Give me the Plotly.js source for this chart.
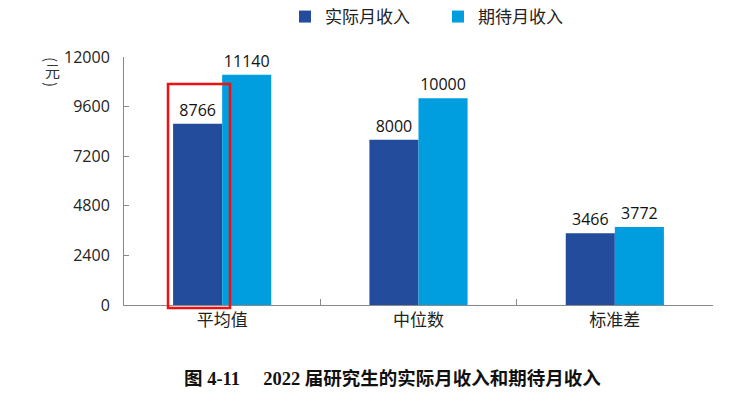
<!DOCTYPE html>
<html><head><meta charset="utf-8">
<script src="https://cdn.plot.ly/plotly-3.0.1.min.js"></script>
<style>html,body{margin:0;padding:0;background:#fff}#chart{width:731px;height:393px}</style>
</head><body><div id="chart"></div>
<script>
const categories = ['平均值', '中位数', '标准差'];
const actualIncome = [8766, 8000, 3466];
const expectedIncome = [11140, 10000, 3772];
const seriesNames = ['实际月收入', '期待月收入'];
const yTicks = [0, 2400, 4800, 7200, 9600, 12000];

const labelFont = {family: 'Open Sans, Noto Sans CJK SC, sans-serif', size: 16, color: '#111'};
const traces = [
  {type: 'bar', name: seriesNames[0], x: categories, y: actualIncome,
   marker: {color: '#234C9C'}, text: actualIncome.map(String), textposition: 'outside',
   textfont: labelFont, cliponaxis: false},
  {type: 'bar', name: seriesNames[1], x: categories, y: expectedIncome,
   marker: {color: '#009EDF'}, text: expectedIncome.map(String), textposition: 'outside',
   textfont: labelFont, cliponaxis: false}
];
const px = (x) => (x - 124) / 589;
const py = (y) => (305 - y) / 248;
const unitFont = {family: 'Noto Sans CJK SC, sans-serif', size: 15, color: '#333'};
const unit = (text, y, angle) => ({xref: 'paper', yref: 'paper', x: px(52), y: py(y),
  xanchor: 'center', yanchor: 'middle', text: text, textangle: angle, showarrow: false, font: unitFont});
const layout = {
  width: 731, height: 393,
  margin: {l: 124, r: 18, t: 57, b: 88, autoexpand: false},
  paper_bgcolor: '#fff', plot_bgcolor: '#fff',
  barmode: 'group', bargap: 0.5, bargroupgap: 0,
  showlegend: true,
  legend: {orientation: 'h', x: px(285), xanchor: 'left', y: py(17), yanchor: 'middle',
           font: {family: 'Noto Sans CJK SC, sans-serif', size: 17, color: '#222'},
           itemwidth: 30, entrywidth: 108, traceorder: 'normal'},
  xaxis: {type: 'category', showline: true, linecolor: '#8a8a8a', linewidth: 1,
          ticks: 'inside', tickson: 'boundaries', ticklen: 6, tickcolor: '#8a8a8a',
          tickfont: {family: 'Noto Sans CJK SC, sans-serif', size: 17, color: '#222'},
          showgrid: false, zeroline: false, fixedrange: true},
  yaxis: {range: [0, 12000], tickvals: yTicks, ticktext: yTicks.map(String),
          showline: true, linecolor: '#8a8a8a', linewidth: 1,
          ticks: 'inside', ticklen: 5, tickcolor: '#8a8a8a', ticklabelstandoff: 10,
          tickfont: {family: 'Open Sans, sans-serif', size: 16, color: '#222'},
          showgrid: false, zeroline: false, fixedrange: true},
  shapes: [
    {type: 'rect', xref: 'paper', yref: 'paper',
     x0: px(168), x1: px(230), y0: py(308), y1: py(84),
     line: {color: '#F01010', width: 2.5}, fillcolor: 'rgba(0,0,0,0)'}
  ],
  annotations: [
    unit('(', 59, 90),
    unit('元', 71, 0),
    unit(')', 84, 90),
    {xref: 'paper', yref: 'paper', x: px(392), y: py(378),
     xanchor: 'center', yanchor: 'middle', showarrow: false,
     text: '<b>图 4-11     2022 届研究生的实际月收入和期待月收入</b>',
     font: {family: 'Liberation Serif, Noto Sans CJK SC, serif', size: 18.5, color: '#111'}}
  ]
};
Plotly.newPlot('chart', traces, layout, {displayModeBar: false, staticPlot: true});
</script></body></html>
